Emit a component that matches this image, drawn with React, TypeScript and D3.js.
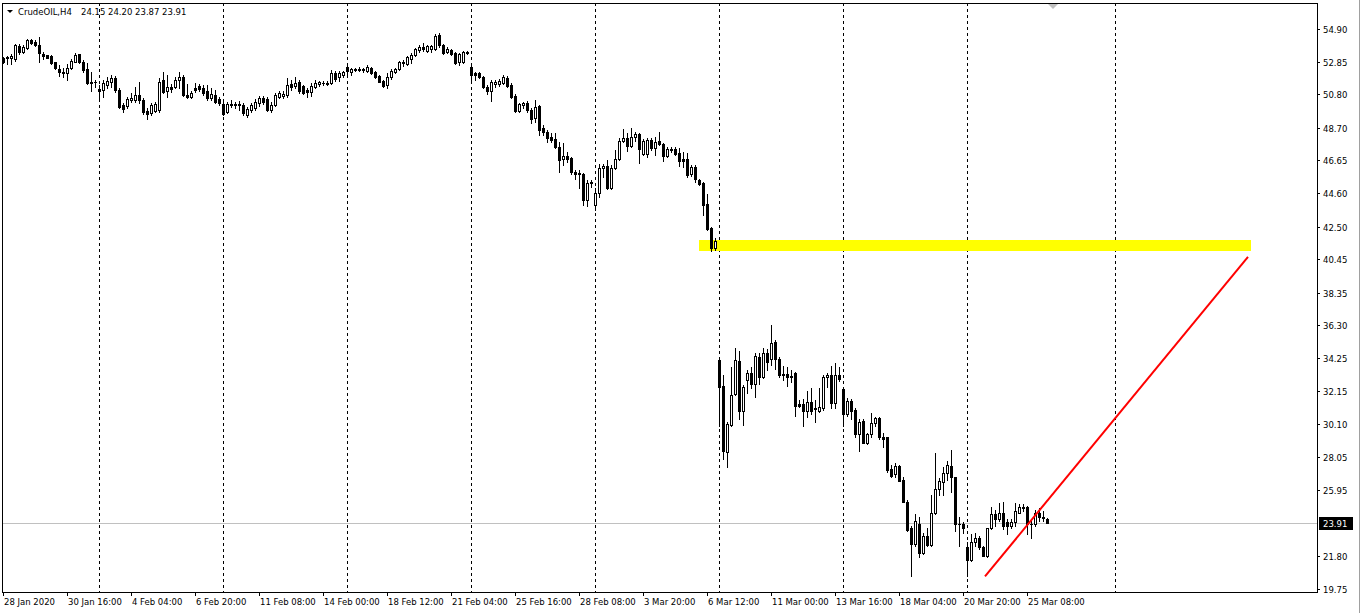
import * as d3 from 'd3';

// CrudeOIL H4, 28 Jan 2020 .. 26 Mar 2020 — [open, high, low, close]
const ohlc: [number, number, number, number][] = [
  [53.05, 53.14, 52.74, 52.80], [53.06, 53.21, 52.71, 53.13], [53.08, 53.30, 52.71, 53.18], [53.02, 53.96, 52.89, 53.90],
  [53.83, 53.93, 53.33, 53.46], [53.46, 53.90, 53.40, 53.80], [53.71, 54.27, 53.65, 54.21], [54.21, 54.27, 53.96, 54.02],
  [54.09, 54.23, 53.85, 53.90], [53.90, 54.40, 52.83, 53.40], [53.31, 53.46, 53.02, 53.23], [53.24, 53.27, 53.08, 53.11],
  [53.18, 53.27, 52.71, 52.77], [52.80, 52.85, 52.39, 52.45], [52.42, 52.67, 51.92, 52.20], [52.20, 52.47, 51.91, 52.11],
  [52.11, 52.69, 51.70, 52.45], [52.45, 53.00, 52.39, 52.89], [52.86, 53.40, 52.83, 53.27], [53.30, 53.35, 52.79, 52.86],
  [52.83, 52.96, 52.22, 52.33], [52.39, 52.74, 51.42, 51.51], [51.58, 52.20, 50.98, 51.51], [51.58, 51.70, 51.28, 51.56],
  [51.11, 51.39, 50.35, 50.98], [51.08, 51.70, 50.61, 51.48], [51.39, 51.91, 51.18, 51.64], [51.55, 52.02, 51.28, 51.80],
  [51.80, 51.97, 50.97, 51.04], [51.04, 51.18, 49.93, 49.98], [50.10, 50.24, 49.70, 49.89], [50.04, 50.66, 49.93, 50.51],
  [50.45, 50.87, 50.30, 50.54], [50.45, 51.28, 50.34, 50.76], [50.76, 51.56, 50.24, 50.45], [50.45, 50.55, 49.55, 49.67],
  [49.76, 49.93, 49.26, 49.57], [49.60, 50.24, 49.51, 50.13], [49.76, 50.30, 49.68, 50.20], [49.82, 51.83, 49.70, 51.58],
  [51.70, 52.20, 50.89, 50.95], [51.01, 52.02, 50.64, 51.26], [51.26, 51.45, 50.95, 51.14], [51.26, 51.89, 51.20, 51.70],
  [51.70, 52.20, 51.20, 51.89], [51.89, 52.02, 50.70, 50.76], [50.76, 51.45, 50.57, 50.64], [50.64, 51.01, 50.57, 50.89],
  [51.20, 51.51, 50.95, 51.08], [51.33, 51.45, 51.01, 51.14], [51.20, 51.39, 50.76, 50.89], [51.01, 51.39, 50.45, 50.57],
  [50.57, 51.20, 50.45, 50.82], [50.76, 51.08, 50.26, 50.32], [50.51, 50.64, 50.13, 50.26], [50.20, 50.45, 49.51, 49.57],
  [49.70, 50.32, 49.63, 50.20], [50.20, 50.45, 50.01, 50.13], [50.17, 50.32, 49.95, 50.10], [50.13, 50.39, 49.82, 50.20],
  [50.13, 50.26, 49.51, 49.63], [49.51, 50.01, 49.38, 49.88], [49.82, 50.26, 49.70, 50.13], [49.95, 50.51, 49.82, 50.32],
  [50.26, 50.70, 50.07, 50.57], [50.57, 50.70, 50.20, 50.32], [50.51, 50.64, 49.76, 49.82], [49.82, 50.32, 49.70, 50.13],
  [50.13, 50.89, 50.07, 50.76], [50.64, 51.01, 50.57, 50.89], [50.70, 51.01, 50.57, 50.82], [50.76, 51.83, 50.64, 51.39],
  [51.45, 51.70, 51.08, 51.26], [51.33, 51.89, 51.20, 51.51], [51.58, 51.70, 50.89, 51.01], [51.33, 51.39, 50.82, 50.89],
  [51.08, 51.20, 50.64, 50.95], [50.95, 51.51, 50.70, 51.33], [51.26, 51.70, 51.20, 51.51], [51.45, 51.64, 51.33, 51.58],
  [51.51, 51.64, 51.39, 51.48], [51.45, 51.64, 51.39, 51.51], [51.51, 52.33, 51.45, 52.14], [52.14, 52.27, 51.64, 51.77],
  [51.89, 52.27, 51.64, 52.14], [52.02, 52.27, 51.89, 52.20], [52.52, 52.64, 52.08, 52.27], [52.20, 52.45, 52.02, 52.39],
  [52.33, 52.45, 52.27, 52.39], [52.39, 52.52, 52.27, 52.33], [52.33, 52.45, 52.20, 52.39], [52.27, 52.64, 52.20, 52.52],
  [52.45, 52.52, 52.08, 52.14], [52.20, 52.27, 51.83, 51.89], [51.95, 52.02, 51.58, 51.58], [51.64, 51.70, 51.26, 51.33],
  [51.39, 52.14, 51.20, 51.89], [51.89, 52.39, 51.77, 52.27], [52.20, 52.45, 52.14, 52.39], [52.39, 52.89, 52.33, 52.83],
  [52.77, 52.96, 52.58, 52.83], [52.71, 53.21, 52.64, 53.14], [53.02, 53.40, 52.77, 53.27], [53.27, 53.71, 53.21, 53.65],
  [53.58, 53.90, 53.46, 53.77], [53.77, 54.02, 53.52, 53.65], [53.52, 53.90, 53.46, 53.83], [53.65, 53.90, 53.46, 53.83],
  [53.65, 54.59, 53.58, 54.46], [54.53, 54.65, 53.77, 53.90], [53.90, 53.96, 53.33, 53.40], [53.46, 53.77, 53.40, 53.65],
  [53.58, 53.65, 53.27, 53.33], [53.40, 53.46, 52.71, 52.77], [52.83, 53.40, 52.64, 53.33], [52.83, 53.52, 52.77, 53.46],
  [53.46, 53.52, 53.33, 53.40], [52.52, 52.77, 51.51, 52.02], [52.14, 52.20, 51.70, 52.02], [52.14, 52.20, 51.83, 51.89],
  [51.89, 51.95, 51.20, 51.26], [51.26, 51.39, 50.82, 51.01], [51.01, 51.70, 50.39, 51.58], [51.45, 51.70, 51.26, 51.58],
  [51.45, 51.77, 51.33, 51.64], [51.51, 52.02, 51.45, 51.89], [51.83, 51.95, 51.26, 51.33], [51.39, 51.51, 50.57, 50.64],
  [50.70, 50.82, 49.70, 49.76], [49.76, 50.26, 49.70, 50.20], [50.13, 50.32, 49.95, 50.26], [50.26, 50.39, 49.70, 49.82],
  [49.82, 49.95, 49.01, 49.26], [49.32, 50.45, 49.07, 50.01], [50.07, 50.13, 48.25, 48.57], [48.69, 48.88, 48.25, 48.44],
  [48.44, 48.57, 47.82, 48.07], [48.13, 48.38, 47.82, 47.94], [48.00, 48.38, 47.44, 47.50], [47.50, 47.82, 45.93, 46.69],
  [46.75, 47.75, 46.37, 46.94], [46.94, 47.19, 46.56, 46.75], [46.81, 46.88, 45.81, 45.93], [45.93, 46.06, 45.49, 45.81],
  [45.81, 46.06, 44.93, 45.87], [45.81, 45.87, 43.87, 44.18], [44.18, 45.43, 43.80, 45.24], [45.24, 45.43, 44.99, 45.31],
  [43.87, 44.93, 43.55, 44.62], [44.62, 46.44, 44.37, 46.19], [46.19, 46.44, 45.62, 46.31], [46.31, 46.69, 44.87, 44.93],
  [44.93, 46.37, 44.87, 46.19], [46.19, 47.31, 46.12, 46.75], [46.75, 48.07, 46.69, 47.88], [47.88, 48.63, 47.82, 48.07],
  [48.07, 48.38, 47.25, 47.57], [47.57, 48.69, 47.50, 48.13], [48.13, 48.44, 47.88, 48.32], [48.32, 48.38, 46.50, 47.38],
  [47.06, 48.00, 47.00, 47.88], [47.06, 48.07, 46.88, 47.94], [47.94, 48.07, 47.31, 47.44], [47.44, 48.13, 47.00, 47.82],
  [47.88, 48.44, 47.63, 47.69], [47.69, 47.75, 46.62, 46.94], [46.94, 47.50, 46.88, 47.38], [47.38, 47.50, 47.19, 47.31],
  [47.38, 47.50, 47.00, 47.06], [47.13, 47.44, 46.31, 46.62], [46.75, 47.19, 46.25, 46.62], [46.75, 47.13, 45.62, 45.75],
  [45.81, 46.37, 45.68, 46.25], [46.25, 46.37, 45.31, 45.49], [45.43, 45.49, 45.12, 45.18], [45.24, 45.31, 43.24, 43.87],
  [43.93, 44.55, 42.30, 42.36], [42.43, 42.49, 40.98, 41.17], [41.17, 41.80, 41.04, 41.61], [34.15, 34.27, 29.95, 32.45],
  [32.52, 33.21, 27.88, 28.44], [28.38, 30.26, 27.38, 30.13], [30.07, 33.71, 30.01, 31.95], [32.02, 34.90, 31.95, 34.15],
  [34.08, 34.71, 30.45, 30.95], [30.95, 32.58, 30.07, 32.45], [32.89, 33.52, 32.08, 33.33], [33.33, 33.71, 32.39, 32.64],
  [32.64, 34.59, 31.83, 34.40], [34.33, 34.59, 32.64, 33.08], [33.08, 34.90, 33.02, 34.59], [34.59, 34.84, 33.52, 34.02],
  [34.21, 36.34, 33.83, 35.21], [35.28, 35.40, 33.58, 34.21], [34.21, 34.33, 33.08, 33.21], [33.27, 33.77, 32.89, 33.21],
  [33.27, 33.71, 32.52, 33.08], [33.14, 33.52, 32.77, 33.08], [33.33, 33.40, 30.63, 31.26], [31.39, 31.64, 31.20, 31.26],
  [31.39, 31.70, 30.01, 30.95], [30.95, 32.20, 30.57, 31.51], [31.51, 32.39, 30.76, 30.95], [31.14, 31.64, 30.26, 31.07],
  [30.95, 32.39, 30.89, 31.20], [31.14, 33.21, 31.01, 33.08], [33.08, 33.33, 32.45, 33.21], [33.21, 33.77, 31.14, 31.45],
  [31.45, 33.96, 31.14, 33.21], [33.21, 33.71, 32.83, 32.95], [32.33, 32.45, 30.01, 30.76], [30.76, 31.76, 30.63, 31.58],
  [31.58, 31.70, 30.45, 30.95], [31.01, 31.14, 29.32, 29.45], [29.45, 30.39, 28.44, 30.26], [30.32, 30.45, 28.94, 28.94],
  [28.94, 29.57, 28.88, 29.45], [29.45, 30.82, 29.32, 30.20], [30.20, 30.57, 30.01, 30.51], [30.51, 30.57, 29.19, 29.26],
  [29.32, 29.57, 28.69, 29.19], [29.26, 29.32, 27.12, 27.25], [27.31, 27.56, 26.81, 26.87], [26.94, 27.63, 26.81, 27.44],
  [27.50, 27.56, 26.50, 26.56], [26.62, 26.75, 25.18, 25.18], [25.24, 25.31, 23.36, 23.43], [23.55, 23.68, 20.54, 22.55],
  [22.55, 24.43, 22.42, 23.99], [23.86, 24.30, 21.73, 21.98], [21.98, 23.24, 21.92, 23.05], [23.05, 23.55, 22.42, 22.49],
  [22.49, 25.68, 22.42, 24.49], [24.49, 28.31, 24.43, 26.00], [26.00, 26.69, 25.68, 26.50], [26.44, 27.38, 25.68, 27.06],
  [27.06, 27.81, 26.62, 27.56], [27.50, 28.50, 25.81, 26.75], [26.75, 26.81, 23.36, 23.80], [23.86, 24.30, 22.42, 23.80],
  [23.80, 23.93, 23.24, 23.61], [22.36, 22.67, 20.54, 21.54], [21.54, 23.18, 21.48, 22.67], [22.67, 23.24, 22.42, 22.93],
  [22.93, 23.05, 22.23, 22.36], [22.36, 22.42, 21.80, 21.80], [21.80, 23.61, 21.73, 23.55], [23.55, 24.87, 23.49, 24.43],
  [24.43, 24.68, 23.68, 24.12], [24.12, 25.12, 23.99, 24.49], [24.49, 25.18, 23.49, 23.68], [23.93, 24.12, 23.18, 23.68],
  [23.68, 24.12, 23.61, 23.93], [23.93, 25.12, 23.68, 24.62], [24.55, 25.06, 24.55, 24.87], [24.81, 25.06, 24.62, 24.87],
  [24.87, 24.93, 23.18, 23.80], [23.86, 24.12, 22.93, 23.80], [23.80, 24.74, 23.68, 24.55], [24.49, 24.81, 23.99, 24.30],
  [24.30, 24.62, 23.99, 24.18], [24.15, 24.20, 23.87, 23.91],
];

const symbolName = 'CrudeOIL,H4';
const priceTicks = [54.90, 52.85, 50.80, 48.70, 46.65, 44.60, 42.50, 40.45, 38.35, 36.30, 34.25, 32.15, 30.10, 28.05, 25.95, 21.80, 19.75];
const dateLabels = [
  '28 Jan 2020', '30 Jan 16:00', '4 Feb 04:00', '6 Feb 20:00', '11 Feb 08:00', '14 Feb 00:00',
  '18 Feb 12:00', '21 Feb 04:00', '25 Feb 16:00', '28 Feb 08:00', '3 Mar 20:00', '6 Mar 12:00',
  '11 Mar 00:00', '13 Mar 16:00', '18 Mar 04:00', '20 Mar 20:00', '25 Mar 08:00',
];
const barsPerLabel = 16;
// week separators (bar index; last one is in the empty future area)
const separatorBars = [24, 55, 86, 117, 148, 179, 210, 241, 278];
// yellow zone and red trend line (bar index / price)
const zoneBars = [174, 312];
const zonePrices = [41.67, 40.98];
const trendBars = [245.5, 311.25];
const trendPrices = [20.54, 40.60];

const W = 1362;
const H = 613;
const frame = { left: 2, top: 3, right: 1317, bottom: 592 };
const font = '"DejaVu Sans", Verdana, sans-serif';

export default function App() {
  const last = ohlc[ohlc.length - 1];
  const lastPrice = last[3];

  // 4 px per bar
  const x = d3.scaleLinear().domain([0, ohlc.length - 1]).range([3, 3 + 4 * (ohlc.length - 1)]);
  const y = d3.scaleLinear().domain([19.75, 54.90]).range([589, 29]);
  const py = (v: number) => Math.round(y(v));

  const candles = ohlc.map(([o, h, l, c], i) => {
    const cx = Math.round(x(i));
    const top = py(Math.max(o, c));
    const bot = py(Math.min(o, c));
    const hi = py(Math.max(h, o, c));
    const lo = py(Math.min(l, o, c));
    const bull = c > o;
    return (
      <g key={i}>
        <rect x={cx} y={hi} width={1} height={lo - hi + 1} fill="#000" />
        <rect x={cx - 1} y={top} width={3} height={Math.max(1, bot - top + 1)} fill="#000" />
        {bull && bot - top > 1 && (
          <rect x={cx} y={top + 1} width={1} height={bot - top - 1} fill="#fff" />
        )}
      </g>
    );
  });

  const lastY = py(lastPrice);
  const tri = Math.round(x(262.5));

  return (
    <svg width={W} height={H} style={{ position: 'absolute', left: 0, top: 0, background: '#fff' }}
      fontFamily={font} fontSize={8.5}>
      <rect x={0} y={0} width={W} height={H} fill="#fff" />

      <g shapeRendering="crispEdges">
        {/* week separators */}
        {separatorBars.map((b) => (
          <line key={b} x1={Math.round(x(b)) + 0.5} x2={Math.round(x(b)) + 0.5} y1={frame.top} y2={frame.bottom}
            stroke="#000" strokeDasharray="3,3" />
        ))}

        {/* yellow zone */}
        <rect x={Math.round(x(zoneBars[0]))} y={py(zonePrices[0])}
          width={Math.round(x(zoneBars[1])) - Math.round(x(zoneBars[0]))}
          height={py(zonePrices[1]) - py(zonePrices[0])} fill="#ffff00" />

        {/* last price line */}
        <line x1={frame.left} x2={frame.right} y1={lastY + 0.5} y2={lastY + 0.5} stroke="#c0c0c0" />

        {candles}
      </g>

      {/* trend line */}
      <line x1={x(trendBars[0])} y1={y(trendPrices[0])} x2={x(trendBars[1])} y2={y(trendPrices[1])}
        stroke="#ff0000" strokeWidth={2} />

      <g shapeRendering="crispEdges">
        {/* frame */}
        <rect x={frame.left + 0.5} y={frame.top + 0.5} width={frame.right - frame.left} height={frame.bottom - frame.top}
          fill="none" stroke="#000" />
        <line x1={W - 2.5} x2={W - 2.5} y1={0} y2={H} stroke="#a0a0a0" />

        {/* price axis */}
        {priceTicks.map((v) => (
          <g key={v}>
            <line x1={frame.right} x2={frame.right + 3} y1={py(v) + 0.5} y2={py(v) + 0.5} stroke="#000" />
            <text x={frame.right + 6} y={py(v) + 3.5} fill="#000">{v.toFixed(2)}</text>
          </g>
        ))}
        <rect x={frame.right + 2} y={lastY - 6} width={34} height={13} fill="#000" />
        <text x={frame.right + 6} y={lastY + 3.5} fill="#fff">{lastPrice.toFixed(2)}</text>

        {/* time axis */}
        {dateLabels.map((lab, k) => {
          const tx = Math.round(x(k * barsPerLabel));
          return (
            <g key={lab}>
              <line x1={tx + 0.5} x2={tx + 0.5} y1={frame.bottom} y2={frame.bottom + 4} stroke="#000" />
              <text x={tx + 1} y={605} fill="#000">{lab}</text>
            </g>
          );
        })}
      </g>

      {/* header */}
      <polygon points="7,10 13,10 10,13" fill="#000" />
      <text x={18} y={15} fill="#000">{symbolName}</text>
      <text x={81} y={15} fill="#000">{last.map((v) => v.toFixed(2)).filter((_, i) => i < 4).join(' ')}</text>

      {/* chart shift marker */}
      <polygon points={`${tri - 5},${frame.top + 1} ${tri + 5},${frame.top + 1} ${tri},${frame.top + 6}`} fill="#c0c0c0" />
    </svg>
  );
}
